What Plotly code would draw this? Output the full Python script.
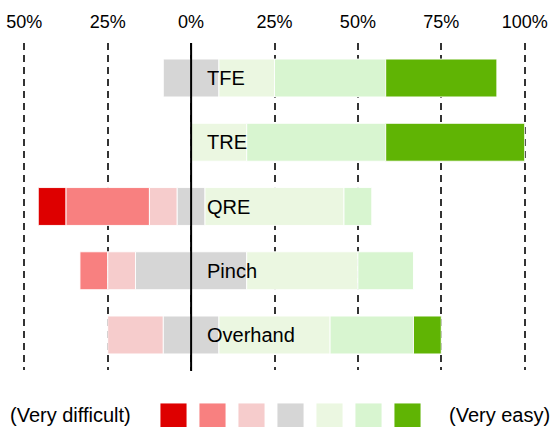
import plotly.graph_objects as go

# ---- data (percent of responses) ----
categories = ["TFE", "TRE", "QRE", "Pinch", "Overhand"]
very_difficult = [0, 0, 8.33, 0, 0]
difficult = [0, 0, 25.0, 8.33, 0]
somewhat_difficult = [0, 0, 8.33, 8.33, 16.67]
neutral = [16.67, 0, 8.33, 33.33, 16.67]
somewhat_easy = [16.67, 16.67, 41.67, 33.33, 33.33]
easy = [33.33, 41.67, 8.33, 16.67, 25.0]
very_easy = [33.33, 41.67, 0, 0, 8.33]

tick_vals = [-50, -25, 0, 25, 50, 75, 100]
tick_text = ["50%", "25%", "0%", "25%", "50%", "75%", "100%"]
legend_left = "(Very difficult)"
legend_right = "(Very easy)"

series = [very_difficult, difficult, somewhat_difficult, neutral,
          somewhat_easy, easy, very_easy]
colors = ["#de0000", "#f88080", "#f6cccc", "#d6d6d6",
          "#ebf7e1", "#d8f5d0", "#60b404"]

FONT = "Liberation Sans, Arial, sans-serif"

# left start of every bar: neutral is centred on zero
starts = [-(vd + d + sd + n / 2) for vd, d, sd, n in
          zip(very_difficult, difficult, somewhat_difficult, neutral)]

fig = go.Figure()
cum = list(starts)
for vals, col in zip(series, colors):
    xs = [v if v > 0 else None for v in vals]
    fig.add_trace(go.Bar(
        y=categories, x=xs, base=list(cum), orientation="h",
        marker=dict(color=col, line=dict(color="rgba(255,255,255,0.9)", width=1)),
        showlegend=False, hoverinfo="skip",
    ))
    cum = [c + v for c, v in zip(cum, vals)]

# category labels inside the bars
for c in categories:
    fig.add_annotation(x=4.3, y=c, xref="x", yref="y", text=c, showarrow=False,
                       xanchor="left", yanchor="middle",
                       font=dict(family=FONT, size=20, color="black"))

# zero line on top of the bars
fig.add_shape(type="line", xref="x", yref="paper", x0=0, x1=0, y0=-0.003, y1=1.0,
              line=dict(color="black", width=2), layer="above")

W, H = 556, 427
L, T = 21, 43
pw, ph = 507, 327
R, B = W - L - pw, H - T - ph

def px2paper(px, py):
    return (px - L) / pw, (T + ph - py) / ph

for i, col in enumerate(colors):
    x0, y0 = px2paper(160 + 39 * i, 403)
    x1, y1 = px2paper(187 + 39 * i, 430)
    fig.add_shape(type="rect", xref="paper", yref="paper", x0=x0, x1=x1, y0=y1, y1=y0,
                  fillcolor=col, line=dict(color="rgba(255,255,255,0.9)", width=1))

lx, ly = px2paper(8, 415)
fig.add_annotation(x=lx, y=ly, xref="paper", yref="paper", text=legend_left,
                   showarrow=False, xanchor="left", yanchor="middle",
                   font=dict(family=FONT, size=20, color="black"))
rx, ry = px2paper(552, 415)
fig.add_annotation(x=rx, y=ry, xref="paper", yref="paper", text=legend_right,
                   showarrow=False, xanchor="right", yanchor="middle",
                   font=dict(family=FONT, size=20, color="black"))

fig.update_layout(
    width=W, height=H,
    margin=dict(l=L, r=R, t=T, b=B, pad=0, autoexpand=False),
    barmode="overlay", bargap=0.41,
    plot_bgcolor="white", paper_bgcolor="white",
    font=dict(family=FONT, color="black"),
    xaxis=dict(range=[-51, 101], side="top", tickvals=tick_vals, ticktext=tick_text,
               tickfont=dict(size=18, color="black"), showgrid=True,
               gridcolor="#333333", gridwidth=1.5, griddash="7px,5px",
               zeroline=False, showline=False, ticks="", ticklabelstandoff=10,
               automargin=False, fixedrange=True),
    yaxis=dict(range=[4.545, -0.545], showticklabels=False, showgrid=False,
               zeroline=False, showline=False, ticks="", automargin=False,
               fixedrange=True),
)

fig.write_html(
    "out.html",
    config={"displayModeBar": False},
    post_script="document.body.style.margin='0';document.body.style.overflow='hidden';",
)
